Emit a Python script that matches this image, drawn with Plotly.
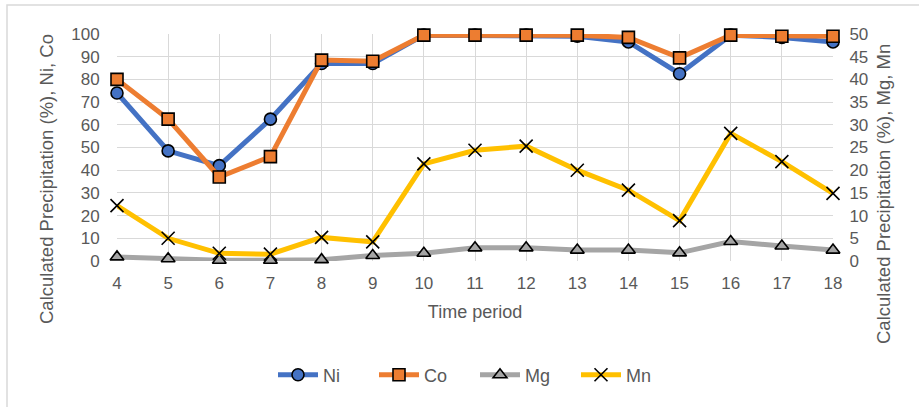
import plotly.graph_objects as go

# Time periods and calculated precipitation (%)
periods = [4, 5, 6, 7, 8, 9, 10, 11, 12, 13, 14, 15, 16, 17, 18]
ni = [74, 48.5, 42, 62.5, 87, 87, 99.5, 99.5, 99.5, 99, 96.5, 82.5, 99.5, 98.5, 96.5]
co = [80, 62.5, 37, 46, 88.5, 88, 99.5, 99.5, 99.5, 99.5, 98.5, 89.5, 99.5, 99, 99]
mg = [0.9, 0.5, 0.15, 0.15, 0.3, 1.2, 1.7, 2.9, 2.9, 2.4, 2.4, 1.8, 4.3, 3.3, 2.4]
mn = [12.2, 5, 1.7, 1.5, 5.2, 4.2, 21.4, 24.4, 25.3, 20, 15.6, 8.9, 28.1, 21.9, 14.9]

left_ticks = list(range(0, 101, 10))
right_ticks = list(range(0, 51, 5))

FONT = "Liberation Sans, Arial, sans-serif"
TXT = "#595959"
GRID = "#d9d9d9"

# plot area in pixels (used to place the free-standing titles)
L, R, T, B = 117, 833, 34, 261
PW, PH = R - L, B - T

def px_x(x):
    return (x - L) / PW

def px_y(y):
    return (B - y) / PH

fig = go.Figure()

def add_series(name, y, color, symbol, axis, fill):
    fig.add_trace(go.Scatter(
        x=periods, y=y, name=name, yaxis=axis, mode="lines+markers",
        line=dict(color=color, width=5),
        marker=dict(symbol=symbol, size=12 if symbol != "x-thin" else 13,
                    color=fill,
                    line=dict(color="black", width=1.6)),
        cliponaxis=False,
    ))

add_series("Ni", ni, "#4472c4", "circle", "y", "#4472c4")
add_series("Co", co, "#ed7d31", "square", "y", "#ed7d31")
add_series("Mg", mg, "#a5a5a5", "triangle-up", "y2", "#a5a5a5")
add_series("Mn", mn, "#ffc000", "x-thin", "y2", "black")

fig.update_layout(
    width=919, height=407,
    margin=dict(l=L, r=919 - R, t=T, b=407 - B),
    paper_bgcolor="white", plot_bgcolor="white",
    font=dict(family=FONT, size=17, color=TXT),
    showlegend=True,
    legend=dict(orientation="h", x=0.5, xanchor="center", y=px_y(375), yanchor="middle",
                font=dict(size=18, color=TXT), itemwidth=40, entrywidth=46,
                traceorder="normal"),
    xaxis=dict(
        range=[4, 18], tickmode="array", tickvals=periods, ticktext=[str(p) for p in periods],
        showgrid=True, gridcolor=GRID, gridwidth=1, zeroline=False,
        showline=False, ticks="outside", ticklen=7, tickcolor="rgba(0,0,0,0)",
        tickfont=dict(size=17),
        title=dict(text="Time period", standoff=12, font=dict(size=18, color=TXT)),
    ),
    yaxis=dict(
        range=[0, 100], tickvals=left_ticks, showgrid=True, gridcolor=GRID, gridwidth=1,
        zeroline=False, showline=False, ticks="outside", ticklen=13,
        tickcolor="rgba(0,0,0,0)", tickfont=dict(size=17),
    ),
    yaxis2=dict(
        range=[0, 50], tickvals=right_ticks, overlaying="y", side="right",
        showgrid=False, zeroline=False, showline=False, ticks="outside", ticklen=12,
        tickcolor="rgba(0,0,0,0)", tickfont=dict(size=17),
    ),
    annotations=[
        dict(text="Calculated Precipitation (%), Ni, Co", textangle=-90,
             xref="paper", yref="paper", x=px_x(46), y=px_y(32),
             xanchor="center", yanchor="top", showarrow=False,
             font=dict(size=18.5, color=TXT)),
        dict(text="Calculated Precipitation (%), Mg, Mn", textangle=-90,
             xref="paper", yref="paper", x=px_x(883), y=px_y(42),
             xanchor="center", yanchor="top", showarrow=False,
             font=dict(size=18.5, color=TXT)),
    ],
    shapes=[dict(type="rect", xref="paper", yref="paper",
                 x0=px_x(7), x1=1.2, y0=-0.7, y1=px_y(5),
                 line=dict(color=GRID, width=1.5), fillcolor="rgba(0,0,0,0)",
                 layer="below")],
)

fig.write_html("out.html")
